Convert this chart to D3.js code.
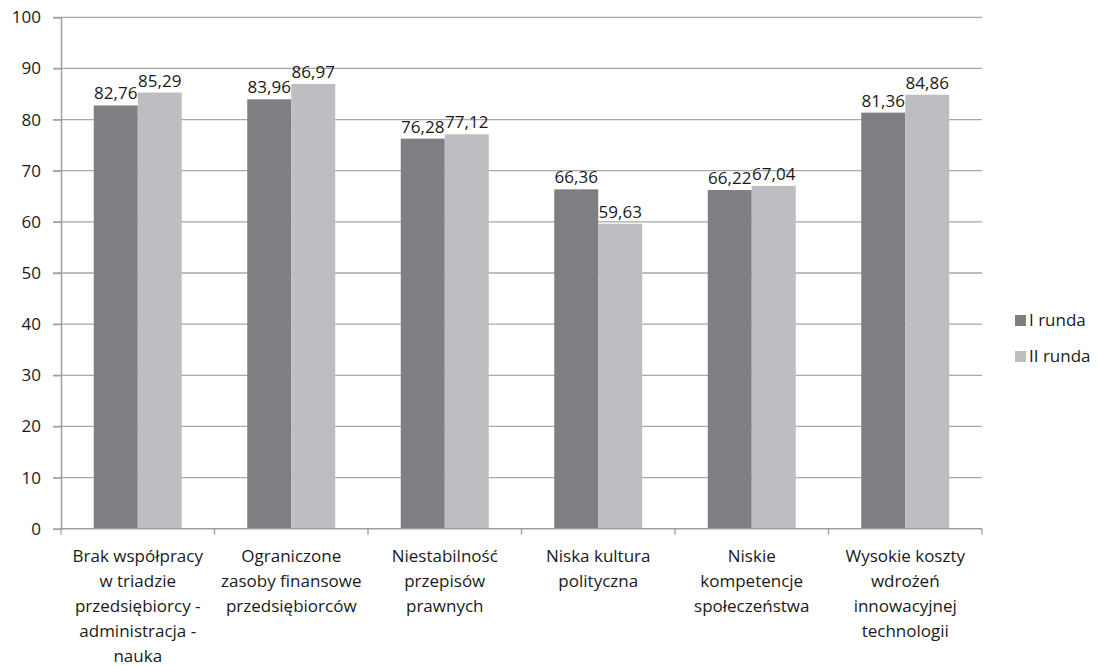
<!DOCTYPE html>
<html><head><meta charset="utf-8">
<script src="https://cdn.jsdelivr.net/npm/d3@7"></script>
<style>body{margin:0;background:#fff;} text{font-family:"Open Sans",sans-serif;fill:#1a1a1a;}</style>
</head><body>
<svg id="c" width="1098" height="666"></svg>
<script>
const categories = [
  ["Brak współpracy","w triadzie","przedsiębiorcy -","administracja -","nauka"],
  ["Ograniczone","zasoby finansowe","przedsiębiorców"],
  ["Niestabilność","przepisów","prawnych"],
  ["Niska kultura","polityczna"],
  ["Niskie","kompetencje","społeczeństwa"],
  ["Wysokie koszty","wdrożeń","innowacyjnej","technologii"]
];
const seriesNames = ["I runda","II runda"];
const round1 = [82.76, 83.96, 76.28, 66.36, 66.22, 81.36];
const round2 = [85.29, 86.97, 77.12, 59.63, 67.04, 84.86];
const yTicks = [0,10,20,30,40,50,60,70,80,90,100];
const colors = ["#7f7f83","#bebec2"];

(function(){
const svg = d3.select("#c");
const FS = "17px";
const mLeft = 61, mRight = 982, mTop = 17.3, mBottom = 528.7;
const idx = d3.range(categories.length);
const x0 = d3.scaleBand().domain(idx).range([mLeft, mRight]).padding(0);
const x1 = d3.scaleBand().domain([0,1]).range([0, 88]).padding(0);
const y = d3.scaleLinear().domain([0,100]).range([mBottom, mTop]);
const fmt = v => v.toFixed(2).replace(".", ",");

// gridlines
svg.append("g").selectAll("line").data(yTicks.filter(t=>t>0)).join("line")
  .attr("x1", mLeft-8).attr("x2", mRight).attr("y1", d=>y(d)).attr("y2", d=>y(d))
  .attr("stroke","#a8a8a8").attr("stroke-width",1.3);

// y axis
const yAxis = svg.append("g").attr("transform",`translate(${mLeft},0)`)
  .call(d3.axisLeft(y).tickValues(yTicks).tickSize(8).tickPadding(12).tickFormat(d=>d));
yAxis.select(".domain").attr("stroke","#a0a0a0").attr("stroke-width",1.5);
yAxis.selectAll(".tick line").attr("stroke","#a0a0a0").attr("stroke-width",1.3);
yAxis.selectAll("text").style("font-size",FS).style("font-family","'Open Sans',sans-serif").attr("fill","#1a1a1a");

// bars
const data = idx.map(i => [round1[i], round2[i]]);
const groups = svg.append("g").selectAll("g").data(data).join("g")
  .attr("transform",(d,i)=>`translate(${x0(i)+x0.bandwidth()/2-44},0)`);
groups.selectAll("rect").data(d=>d).join("rect")
  .attr("x",(d,j)=>x1(j)).attr("width",x1.bandwidth())
  .attr("y",d=>y(d)).attr("height",d=>y(0)-y(d))
  .attr("fill",(d,j)=>colors[j]);
groups.selectAll("text").data(d=>d).join("text")
  .attr("x",(d,j)=>x1(j)+x1.bandwidth()/2).attr("y",d=>y(d)-6)
  .attr("text-anchor","middle").style("font-size",FS).text(fmt);

// x axis
const xAxisG = svg.append("g");
xAxisG.append("line").attr("x1",mLeft).attr("x2",mRight).attr("y1",mBottom).attr("y2",mBottom)
  .attr("stroke","#a0a0a0").attr("stroke-width",1.5);
xAxisG.selectAll("line.t").data(d3.range(categories.length+1)).join("line").attr("class","t")
  .attr("x1",i=> i<categories.length ? x0(i) : mRight).attr("x2",i=> i<categories.length ? x0(i) : mRight)
  .attr("y1",mBottom).attr("y2",mBottom+6).attr("stroke","#a0a0a0").attr("stroke-width",1.3);
const labs = xAxisG.selectAll("text").data(categories).join("text")
  .attr("text-anchor","middle").style("font-size",FS);
labs.each(function(lines,i){
  const t = d3.select(this);
  lines.forEach((l,k)=>{
    t.append("tspan").attr("x", x0(i)+x0.bandwidth()/2).attr("y", 562 + k*25).text(l);
  });
});

// legend
const lg = svg.append("g").attr("transform","translate(1015,315)");
seriesNames.forEach((n,i)=>{
  lg.append("rect").attr("x",0).attr("y",i*36).attr("width",11).attr("height",11).attr("fill",colors[i]);
  lg.append("text").attr("x",14).attr("y",i*36+11).style("font-size",FS).text(n);
});
})();
</script>
</body></html>
